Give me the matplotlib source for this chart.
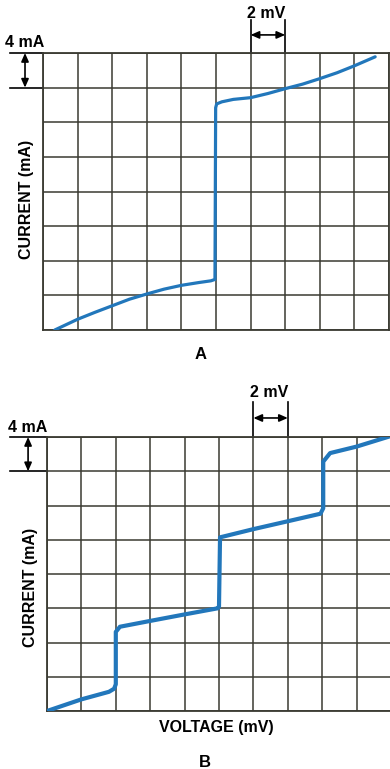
import matplotlib
matplotlib.use("Agg")
import matplotlib.pyplot as plt
import numpy as np

plt.rcParams["font.family"] = ["Liberation Sans", "DejaVu Sans"]

# grid units: 1 division = 2 mV (x), 4 mA (y)
n_cols, n_rows = 10, 8

# panel A: one big step
voltage_a = [0.34, 1, 1.5, 2, 2.5, 3, 3.5, 4, 4.5, 4.85, 4.97, 4.99, 5.02, 5.17,
             5.5, 6, 6.5, 7, 7.5, 8, 8.5, 9, 9.6]
current_a = [0, 0.31, 0.51, 0.70, 0.89, 1.04, 1.18, 1.29, 1.37, 1.42, 1.46, 6.42, 6.53, 6.59,
             6.66, 6.71, 6.83, 6.97, 7.10, 7.26, 7.43, 7.63, 7.89]

# panel B: staircase
voltage_b = [0, 1, 1.8, 1.95, 2.0, 2.0, 2.12, 3, 4, 4.97, 5.0, 5.03, 6, 7, 7.95,
             8.03, 8.03, 8.23, 9, 10]
current_b = [0, 0.34, 0.56, 0.65, 0.78, 2.31, 2.46, 2.63, 2.82, 3.0, 3.05, 5.07, 5.31, 5.54, 5.76,
             5.92, 7.28, 7.53, 7.72, 8.03]

GRID = "#3a3a32"
LINE = "#2277bb"
FS = 11.5

W, H = 390, 769
fig = plt.figure(figsize=(W / 100, H / 100), dpi=100)


def make_ax(left, right, top, bottom):
    ax = fig.add_axes([left / W, 1 - bottom / H, (right - left) / W, (bottom - top) / H])
    ax.set_xlim(0, n_cols)
    ax.set_ylim(0, n_rows)
    ax.set_xticks(np.arange(n_cols + 1))
    ax.set_yticks(np.arange(n_rows + 1))
    ax.tick_params(length=0, labelbottom=False, labelleft=False)
    ax.grid(True, color=GRID, lw=1.1)
    for s in ax.spines.values():
        s.set_color(GRID)
        s.set_linewidth(1.3)
    return ax


def scale_marks(ax, mv_x, mv_top, mv_text_y, ma_x, ma_left, ma_text_y):
    # 2 mV marker
    for xv in (mv_x, mv_x + 1):
        ax.plot([xv, xv], [n_rows, mv_top], color="black", lw=1.2, clip_on=False)
    ay = n_rows + (mv_top - n_rows) * 0.55
    ax.annotate("", xy=(mv_x, ay), xytext=(mv_x + 1, ay), annotation_clip=False,
                arrowprops=dict(arrowstyle="<|-|>,head_length=0.5,head_width=0.22",
                                color="black", lw=1.2, shrinkA=0, shrinkB=0))
    ax.text(mv_x + 0.45, mv_text_y, "2 mV", ha="center", va="center", fontsize=FS,
            fontweight="bold")
    # 4 mA marker
    for yv in (n_rows, n_rows - 1):
        ax.plot([ma_left, 0], [yv, yv], color="black", lw=1.2, clip_on=False)
    ax.annotate("", xy=(ma_x, n_rows), xytext=(ma_x, n_rows - 1), annotation_clip=False,
                arrowprops=dict(arrowstyle="<|-|>,head_length=0.5,head_width=0.22",
                                color="black", lw=1.2, shrinkA=0, shrinkB=0))
    ax.text(ma_x, ma_text_y, "4 mA", ha="center", va="center", fontsize=FS, fontweight="bold")


# ---- panel A
ax_a = make_ax(43, 389, 53, 330)
ax_a.plot(voltage_a, current_a, color=LINE, lw=2.3, solid_joinstyle="round",
          solid_capstyle="round", zorder=3)
scale_marks(ax_a, 6, 8.95, 9.13, -0.52, -0.95, 8.29)
ax_a.text(-0.49, 3.76, "CURRENT (mA)", rotation=90, ha="center", va="center", fontsize=FS,
          fontweight="bold")
ax_a.text(4.54, -0.72, "A", ha="center", va="center", fontsize=12, fontweight="bold")

# ---- panel B
ax_b = make_ax(47, 391, 437, 711)
ax_b.plot(voltage_b, current_b, color=LINE, lw=3.0, solid_joinstyle="round",
          solid_capstyle="round", zorder=3)
scale_marks(ax_b, 6, 9.01, 9.31, -0.55, -1.08, 8.29)
ax_b.text(-0.47, 3.61, "CURRENT (mA)", rotation=90, ha="center", va="center", fontsize=FS,
          fontweight="bold")
ax_b.text(4.91, -0.48, "VOLTAGE (mV)", ha="center", va="center", fontsize=FS, fontweight="bold")
ax_b.text(4.6, -1.5, "B", ha="center", va="center", fontsize=12, fontweight="bold")

fig.savefig("out.png", dpi=100)
